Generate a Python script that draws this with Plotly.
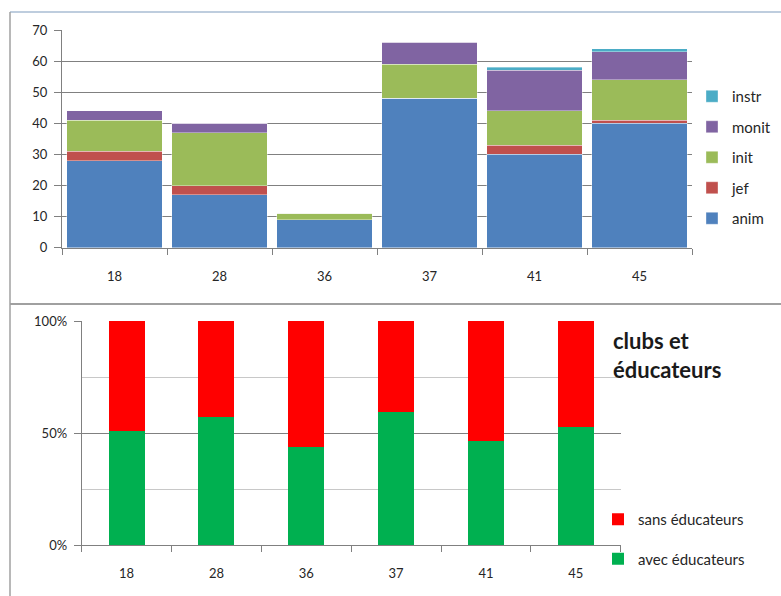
import plotly.graph_objects as go

# ---------------- data ----------------
categories = ["18", "28", "36", "37", "41", "45"]

anim = [28, 17, 9, 48, 30, 40]
jef = [3, 3, 0, 0, 3, 1]
init = [10, 17, 2, 11, 11, 13]
monit = [3, 3, 0, 7, 13, 9]
instr = [0, 0, 0, 0, 1, 1]

avec_educateurs = [51.0, 57.1, 43.6, 59.5, 46.4, 52.7]
sans_educateurs = [49.0, 42.9, 56.4, 40.5, 53.6, 47.3]

top_series = [("anim", anim, "#4F81BD"), ("jef", jef, "#C0504D"),
              ("init", init, "#9BBB59"), ("monit", monit, "#8064A2"),
              ("instr", instr, "#4BACC6")]
bottom_series = [("avec éducateurs", avec_educateurs, "#00B050"),
                 ("sans éducateurs", sans_educateurs, "#FF0000")]
pct_ticks = [0, 50, 100]
pct_labels = ["0%", "50%", "100%"]

W, H = 781, 596
FONT = "Lato"
TXT = "#262626"
GRID = "#808080"


def px_x(p):
    return p / W


def px_y(p):
    return 1 - p / H


fig = go.Figure()

n_top = len(top_series)
for i, (name, vals, col) in enumerate(top_series):
    fig.add_trace(go.Bar(
        x=categories, y=vals, name=name,
        marker=dict(color=col, line=dict(width=0.6, color="rgba(255,255,255,0.6)")),
        xaxis="x", yaxis="y", legend="legend", legendgroup=name,
        legendrank=n_top - i))

n_bot = len(bottom_series)
for i, (name, vals, col) in enumerate(bottom_series):
    fig.add_trace(go.Bar(
        x=categories, y=vals, name=name, width=0.4,
        marker=dict(color=col, line=dict(width=0)),
        xaxis="x2", yaxis="y2", legend="legend2", legendgroup=name,
        legendrank=n_bot - i))

axis_common = dict(showline=True, linecolor=GRID, linewidth=1, automargin=False,
                   tickfont=dict(family=FONT, size=13, color=TXT),
                   ticks="outside", tickcolor=GRID, zeroline=False, fixedrange=True)

fig.update_layout(
    width=W, height=H, autosize=False,
    margin=dict(l=0, r=0, t=0, b=0, pad=0, autoexpand=False),
    paper_bgcolor="white", plot_bgcolor="white",
    barmode="stack",
    bargap=0.095,
    showlegend=True,
    font=dict(family=FONT, size=13, color=TXT),
    xaxis=dict(domain=[px_x(62), px_x(692)], anchor="y", type="category",
               tickson="boundaries", ticklen=6, showgrid=False,
               ticklabelstandoff=17, **axis_common),
    yaxis=dict(domain=[px_y(247.7), px_y(30)], anchor="x", range=[0, 70], dtick=10,
               showgrid=True, gridcolor=GRID, gridwidth=1.3, ticklen=7,
               ticklabelstandoff=4, **axis_common),
    xaxis2=dict(domain=[px_x(81.7), px_x(620.7)], anchor="y2", type="category",
                tickson="boundaries", ticklen=6, showgrid=False,
                ticklabelstandoff=16, **axis_common),
    yaxis2=dict(domain=[px_y(545), px_y(321)], anchor="x2", range=[0, 100],
                tickvals=pct_ticks, ticktext=pct_labels, ticklen=7,
                showgrid=True, gridcolor=GRID, gridwidth=1.3,
                minor=dict(tickvals=[25, 75], showgrid=True, gridcolor="#c8c8c8", ticks=""),
                ticklabelstandoff=4, **axis_common),
    legend=dict(x=px_x(692), y=px_y(80), xanchor="left", yanchor="top",
                traceorder="grouped", tracegroupgap=8,
                font=dict(family=FONT, size=15, color=TXT), bgcolor="rgba(0,0,0,0)"),
    legend2=dict(x=px_x(598), y=px_y(503), xanchor="left", yanchor="top",
                 traceorder="grouped", tracegroupgap=17,
                 font=dict(family=FONT, size=15, color=TXT), bgcolor="rgba(0,0,0,0)"),
)

fig.add_annotation(text="<b>clubs et<br>éducateurs</b>", xref="paper", yref="paper",
                   x=px_x(611), y=px_y(325), xanchor="left", yanchor="top", align="left",
                   showarrow=False, font=dict(family=FONT, size=22, color="#1a1a1a"))

# chart frames (decorative borders of the two chart areas)
fig.add_shape(type="line", xref="paper", yref="paper", x0=px_x(10), x1=1, y0=px_y(12), y1=px_y(12),
              line=dict(color="#a9bcd3", width=1.5))
fig.add_shape(type="line", xref="paper", yref="paper", x0=px_x(10), x1=px_x(10), y0=0, y1=px_y(12),
              line=dict(color="#a0a0a0", width=1.5))
fig.add_shape(type="line", xref="paper", yref="paper", x0=px_x(10), x1=1, y0=px_y(304), y1=px_y(304),
              line=dict(color="#a0a0a0", width=2))

fig.write_html("out.html", config={"displayModeBar": False},
               post_script="document.body.style.margin='0';document.body.style.overflow='hidden';")
